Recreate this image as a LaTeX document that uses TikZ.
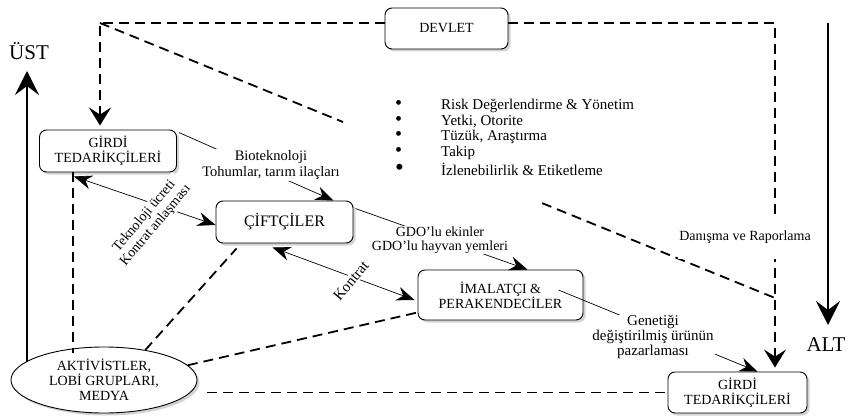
\documentclass[tikz,border=0pt]{standalone}
\usepackage{fontspec}
\setmainfont{Liberation Serif}
\usetikzlibrary{positioning, arrows.meta, shapes, shadows, calc}

\newcommand{\madde}[1]{\makebox[46pt][l]{\fontsize{#1}{15}\selectfont\textbullet}}

\tikzset{
  kutu/.style={draw, rounded corners=7pt, fill=white, line width=0.9pt, align=center,
    drop shadow={shadow xshift=2.5pt, shadow yshift=-2.5pt, opacity=0.35}},
  kesik/.style={line width=1.8pt, dash pattern=on 10pt off 6pt},
  ok/.style={line width=0.7pt, -{Stealth[length=18pt, width=14pt, inset=6pt]}},
  ciftok/.style={line width=0.7pt, {Stealth[length=18pt, width=14pt, inset=6pt]}-{Stealth[length=18pt, width=14pt, inset=6pt]}},
  kesikok/.style={kesik, -{Stealth[length=18pt, width=22pt, inset=7pt]}},
  buyukok/.style={line width=1.8pt, -{Stealth[length=24pt, width=24pt, inset=9pt]}},
  etiket/.style={fill=white, align=center, inner sep=1pt},
}

\begin{document}
\begin{tikzpicture}[x=1pt, y=-1pt, font=\fontsize{14}{15}\selectfont]
\useasboundingbox (0,0) rectangle (851,417);

% kutular
\node[kutu, minimum width=123pt, minimum height=41pt] (devlet) at (446.5,28.5) {DEVLET};
\node[kutu, minimum width=137pt, minimum height=42pt] (gtop) at (108,151) {GİRDİ\\TEDARİKÇİLERİ};
\node[kutu, minimum width=137pt, minimum height=42pt, font=\fontsize{16}{17}\selectfont] (ciftci) at (284.5,222) {ÇİFTÇİLER};
\node[kutu, minimum width=165pt, minimum height=50pt] (imalat) at (500.5,295) {İMALATÇI \&\\PERAKENDECİLER};
\node[kutu, minimum width=139pt, minimum height=41pt] (gbot) at (737.5,392.5) {GİRDİ\\TEDARİKÇİLERİ};
\node[kutu, ellipse, rounded corners=0pt, inner sep=0pt, minimum width=186pt, minimum height=66pt] (aktivist) at (104,380) {AKTİVİSTLER,\\LOBİ GRUPLARI,\\MEDYA};

\coordinate (ksol) at (100,23);
\coordinate (ksag) at (775,23);
\coordinate (kbulus) at (775,298);
\coordinate (kol) at (73,353);
\coordinate (ustbas) at (27,362);
\coordinate (altbas) at (828,23);

% kesik cizgiler
\draw[kesikok] (devlet.west |- ksol) -- (ksol) -- ($(ksol |- gtop.north)+(0,-4)$);
\draw[kesikok] (devlet.east |- ksag) -- (ksag) -- ($(ksag |- gbot.north)+(0,-4)$);
\draw[kesik] (ksol) -- ($(ksol)!0.36!(kbulus)$);
\draw[kesik] ($(ksol)!0.655!(kbulus)$) -- (kbulus);
\draw[kesik] (gtop.south -| kol) -- (kol);
\draw[kesik] (aktivist.36) -- ($(ciftci.south west)+(21,5)$);
\draw[kesik] (aktivist.10) -- ($(imalat.south west)+(0,-8)$);
\draw[kesik, shorten <=10pt] (aktivist.east |- gbot.west) -- (gbot.west);

% ust / alt
\node[font=\fontsize{21}{22}\selectfont] (ust) at (29,51) {ÜST};
\node[font=\fontsize{21}{22}\selectfont] (alt) at (826,345) {ALT};
\draw[buyukok] (ustbas) -- (ustbas |- 0,71);
\draw[buyukok] (altbas) -- (altbas |- 0,325);

% oklar
\draw[ok] ($(gtop.north east)+(2,3)$) -- ($(ciftci.north east)+(-20,0)$);
\draw[ciftok] ($(ciftci.west)+(0,3)$) -- ($(gtop.south)+(-34,4)$);
\draw[ok] ($(ciftci.north east)+(2,8)$) -- ($(imalat.north)+(27,0)$);
\draw[ciftok] ($(ciftci.south)+(-12,4)$) -- ($(imalat.west)+(-3,5)$);
\draw[ok] ($(imalat.east)+(-25,-5)$) -- ($(gbot.north)+(20,0)$);

% etiketler
\node[etiket, font=\fontsize{14.5}{16}\selectfont] (biotek) at (271,165) {Bioteknoloji\\Tohumlar, tarım ilaçları};
\node[etiket, rotate=50, font=\fontsize{14}{14.5}\selectfont] (teknoloji) at (150,221) {Teknoloji ücreti\\Kontrat anlaşması};
\node[etiket, font=\fontsize{14}{14}\selectfont] (gdo) at (440,240) {GDO’lu ekinler\\GDO’lu hayvan yemleri};
\node[etiket, rotate=50, font=\fontsize{15}{15}\selectfont] (kontrat) at (351,281) {Kontrat};
\node[etiket, font=\fontsize{15}{13.5}\selectfont] (genetik) at (653,337) {Genetiği\\değiştirilmiş ürünün\\pazarlaması};
\node[etiket, minimum height=44pt] (danisma) at (745,237) {Danışma ve Raporlama};

\node[align=left, anchor=north west, inner sep=0pt, font=\fontsize{15}{15.5}\selectfont] (liste) at (395,99)
  {\madde{20}Risk Değerlendirme \& Yönetim\\
   \madde{20}Yetki, Otorite\\
   \madde{20}Tüzük, Araştırma\\
   \madde{20}Takip\\[3pt]
   \madde{25}İzlenebilirlik \& Etiketleme};
\end{tikzpicture}
\end{document}
